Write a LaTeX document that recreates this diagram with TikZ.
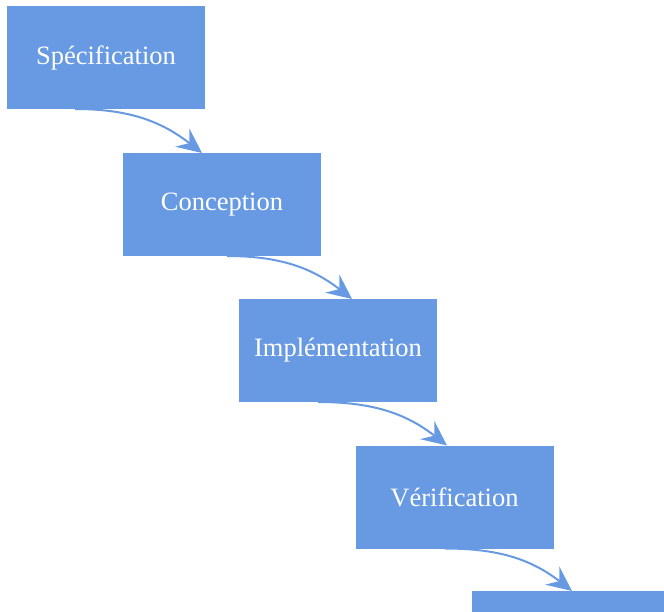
\documentclass[tikz,border=0pt]{standalone}
\usepackage{fontspec}
\setmainfont{Liberation Serif}
\usetikzlibrary{arrows.meta}
\definecolor{boxblue}{RGB}{103,154,227}
\tikzset{
  phase/.style={fill=boxblue, draw=none, minimum width=198pt, minimum height=103pt,
    inner sep=0pt, outer sep=0pt, text=white, font=\fontsize{26.5}{31}\selectfont},
  flow/.style={draw=boxblue, line width=2pt,
    -{Stealth[length=25pt, width=23pt, inset=9pt]}}
}
\begin{document}
\begin{tikzpicture}[x=1pt, y=-1pt]
\useasboundingbox (0,0) rectangle (664,611);
\clip (0,0) rectangle (664,611);
\node[phase] (s1) at (106,57.5) {Spécification};
\node[phase] (s2) at (222,204.5) {Conception};
\node[phase] (s3) at (338,350.5) {Implémentation};
\node[phase] (s4) at (454.5,497) {Vérification};
\node[phase] (s5) at (571,642.5) {};
\foreach \a/\b/\sa/\sb in {s1/s2/-31/-20, s2/s3/5/14, s3/s4/-20/-7.5, s4/s5/-9.5/1}{
  \draw[flow] ([xshift=\sa pt]\a.south) to[out=0, in=142] ([xshift=\sb pt]\b.north);
}
\end{tikzpicture}
\end{document}
